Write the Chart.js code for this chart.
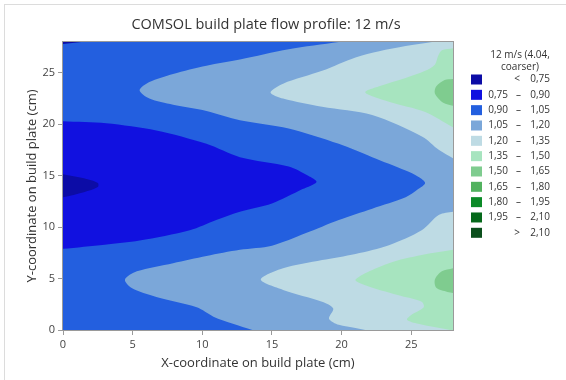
<!DOCTYPE html>
<html>
<head>
<meta charset="utf-8">
<script src="https://cdn.jsdelivr.net/npm/chart.js@4"></script>
<style>
  html, body { margin: 0; padding: 0; background: #fff; }
  #wrap { position: relative; width: 566px; height: 380px; overflow: hidden; }
  #frame { position: absolute; left: 4px; top: 4px; width: 600px; height: 400px;
           border-left: 1px solid #dcdcdc; border-top: 1px solid #dcdcdc; }
  canvas { position: absolute; left: 0; top: 0; }
</style>
</head>
<body>
<div id="wrap"><div id="frame"></div><canvas id="chart" width="566" height="380"></canvas></div>
<script>
// --- Data ---
const xTicks = [0, 5, 10, 15, 20, 25];
const yTicks = [0, 5, 10, 15, 20, 25];
const bandEdges = ['0,75', '0,90', '1,05', '1,20', '1,35', '1,50', '1,65', '1,80', '1,95', '2,10'];
const bandColors = ['#0c0ca6', '#1111e0', '#235fdf', '#7ba7d9', '#bedbe4', '#a7e4bf',
                    '#7fcc8f', '#52b25f', '#0b8a27', '#05691a', '#0b4f1c'];

// contour band outlines, [x, y] in cm (repeated points = sharp corners)
const plateBase = [[0,0],[0,0],[28,0],[28,0],[28,28],[28,28],[0,28],[0,28],[0,0]];
const bandMid = [[0,0],[0,0],[13.6,0],[13.6,0],[12.2,0.6],[10.8,1.3],[9.6,2.2],[6.7,3.2],[4.9,4.1],
  [4.45,4.9],[5.3,5.7],[7.9,6.5],[10.3,7.2],[12.7,7.8],[15,8.2],[17.4,9.4],[19.8,10.7],[22.2,11.8],
  [24.6,12.9],[25.5,13.7],[26.0,14.3],[25.5,14.9],[24.6,15.5],[22.2,16.8],[19.8,18.1],[16.2,19.6],
  [12.7,20.4],[10.3,21.3],[7.9,21.9],[6.2,22.5],[5.5,23.3],[6.2,24.1],[7.9,24.9],[10.3,25.7],
  [12.7,26.3],[16.2,27.3],[19.8,28],[19.8,28],[0,28],[0,28],[0,0]];
const bandLowCore = [[0,7.9],[0,7.9],[3,8.3],[5.5,8.7],[9.1,9.7],[11,10.7],[12.7,11.5],[15,12.3],
  [17.2,13.7],[18.2,14.4],[17.6,15.0],[16.2,15.9],[12.7,16.8],[10.3,18.1],[6.7,19.4],[3.1,20.1],
  [0,20.3],[0,20.3],[0,7.9]];
const bandMinLobe = [[0,12.9],[0,12.9],[1.5,13.4],[2.5,13.9],[2.5,14.3],[1.5,14.75],[0,15.15],[0,15.15],[0,12.9]];
const bandMinCorner = [[0,27.8],[0,27.8],[1.3,28],[1.3,28],[0,28],[0,28],[0,27.8]];
const bandLightTop = [[26.5,28],[26.5,28],[28,28],[28,28],[28,16.7],[28,16.7],[27,17.5],[25.8,18.8],
  [22.2,20.9],[18.6,21.7],[15.8,22.5],[14.9,23.1],[15.8,23.95],[18.6,25.2],[21,26.5],[22.7,27.1],
  [24.6,27.6],[26.5,28]];
const bandLightLow = [[21.7,0],[21.7,0],[21,0.2],[19.8,0.5],[19.1,1.1],[19.4,2.1],[18.6,2.75],
  [15.8,3.9],[14.2,4.9],[15.8,6.0],[18.6,6.8],[21,7.4],[23.4,8.25],[25.75,9.7],[27,11.2],[28,11.5],
  [28,11.5],[28,0],[28,0],[21.7,0]];
const bandGreenTop = [[28,27.4],[28,27.4],[27.2,27.2],[26.95,26.7],[26.7,25.8],[26,25.2],[24.6,24.5],
  [22.7,23.7],[21.7,23.1],[23.4,22.2],[26,21.2],[28,19.7],[28,19.7],[28,27.4]];
const bandGreenLow = [[28,7.8],[28,7.8],[25.75,7.3],[23.4,6.5],[21,4.9],[22,4.2],[24.3,3.3],
  [25.75,2.75],[25.9,2.2],[25.0,1.45],[24.7,1.0],[25.5,0.6],[27.8,0],[27.8,0],[28,0],[28,0],[28,7.8]];
const bandMidGreenTop = [[28,24.4],[28,24.4],[27.4,24.3],[26.8,23.7],[26.7,23.0],[27.3,22.1],
  [28,21.8],[28,21.8],[28,24.4]];
const bandMidGreenLow = [[28,6.0],[28,6.0],[27.2,5.7],[26.7,4.9],[26.8,4.1],[27.6,3.7],[28,3.6],
  [28,3.6],[28,6.0]];

// bottom layer first, with the band each outline belongs to
const layers = [
  { pts: plateBase, band: 3 },
  { pts: bandMid, band: 2 },
  { pts: bandLowCore, band: 1 },
  { pts: bandMinLobe, band: 0 },
  { pts: bandMinCorner, band: 0 },
  { pts: bandLightTop, band: 4 },
  { pts: bandLightLow, band: 4 },
  { pts: bandGreenTop, band: 5 },
  { pts: bandGreenLow, band: 5 },
  { pts: bandMidGreenTop, band: 6 },
  { pts: bandMidGreenLow, band: 6 }
];

const FONT = '"Segoe UI", "Open Sans", sans-serif';
Chart.defaults.font.family = FONT;

// title, plot frame and the band legend
const decor = {
  id: 'decor',
  afterDraw(chart) {
    const { ctx, chartArea: a } = chart;
    ctx.save();
    ctx.strokeStyle = '#9a9a9a';
    ctx.lineWidth = 1;
    ctx.strokeRect(a.left - 0.5, a.top - 0.5, a.right - a.left + 1, a.bottom - a.top + 1);

    ctx.fillStyle = '#333';
    ctx.textBaseline = 'middle';
    ctx.textAlign = 'center';
    ctx.font = `14.5px ${FONT}`;
    ctx.fillText('COMSOL build plate flow profile: 12 m/s', 266, 25);

    ctx.font = `10px ${FONT}`;
    ctx.fillText('12 m/s (4.04,', 520, 55);
    ctx.fillText('coarser)', 520, 67);

    bandColors.forEach((c, i) => {
      const y = 79.5 + i * 15.33;
      ctx.fillStyle = c;
      ctx.fillRect(471, y - 5, 11, 10);
      ctx.fillStyle = '#333';
      if (i === 0 || i === bandColors.length - 1) {
        ctx.textAlign = 'center';
        ctx.fillText(i === 0 ? '<' : '>', 517, y);
        ctx.textAlign = 'right';
        ctx.fillText(i === 0 ? bandEdges[0] : bandEdges[bandEdges.length - 1], 550, y);
      } else {
        ctx.textAlign = 'right';
        ctx.fillText(bandEdges[i - 1], 508, y);
        ctx.textAlign = 'center';
        ctx.fillText('\u2013', 518.5, y);
        ctx.textAlign = 'right';
        ctx.fillText(bandEdges[i], 550, y);
      }
    });
    ctx.restore();
  }
};

new Chart(document.getElementById('chart'), {
  type: 'line',
  data: {
    datasets: layers.map((l, i) => ({
      data: l.pts.map(p => ({ x: p[0], y: p[1] })),
      backgroundColor: bandColors[l.band],
      borderWidth: 0,
      fill: 'shape',
      pointRadius: 0,
      pointHitRadius: 0,
      tension: 0.3,
      order: layers.length - i
    }))
  },
  options: {
    responsive: false,
    animation: false,
    events: [],
    layout: { padding: { top: 42, right: 113, left: 0, bottom: 0 } },
    plugins: { legend: { display: false }, tooltip: { enabled: false } },
    scales: {
      x: {
        type: 'linear', min: 0, max: 28,
        afterBuildTicks: s => { s.ticks = xTicks.map(v => ({ value: v })); },
        afterFit: s => { s.height = 50; },
        border: { display: false },
        grid: { drawOnChartArea: false, tickLength: 5, color: '#9a9a9a' },
        ticks: { color: '#444', font: { size: 11 }, padding: 3, maxRotation: 0 },
        title: { display: true, text: 'X-coordinate on build plate (cm)', color: '#333',
                 font: { size: 13 }, padding: { top: 4, bottom: 9 } }
      },
      y: {
        type: 'linear', min: 0, max: 28,
        afterBuildTicks: s => { s.ticks = yTicks.map(v => ({ value: v })); },
        afterFit: s => { s.width = 63; },
        border: { display: false },
        grid: { drawOnChartArea: false, tickLength: 5, color: '#9a9a9a' },
        ticks: { color: '#444', font: { size: 11 }, padding: 3 },
        title: { display: true, text: 'Y-coordinate on build plate (cm)', color: '#333',
                 font: { size: 13 }, padding: { top: 24, bottom: 0 } }
      }
    }
  },
  plugins: [decor]
});
</script>
</body>
</html>
